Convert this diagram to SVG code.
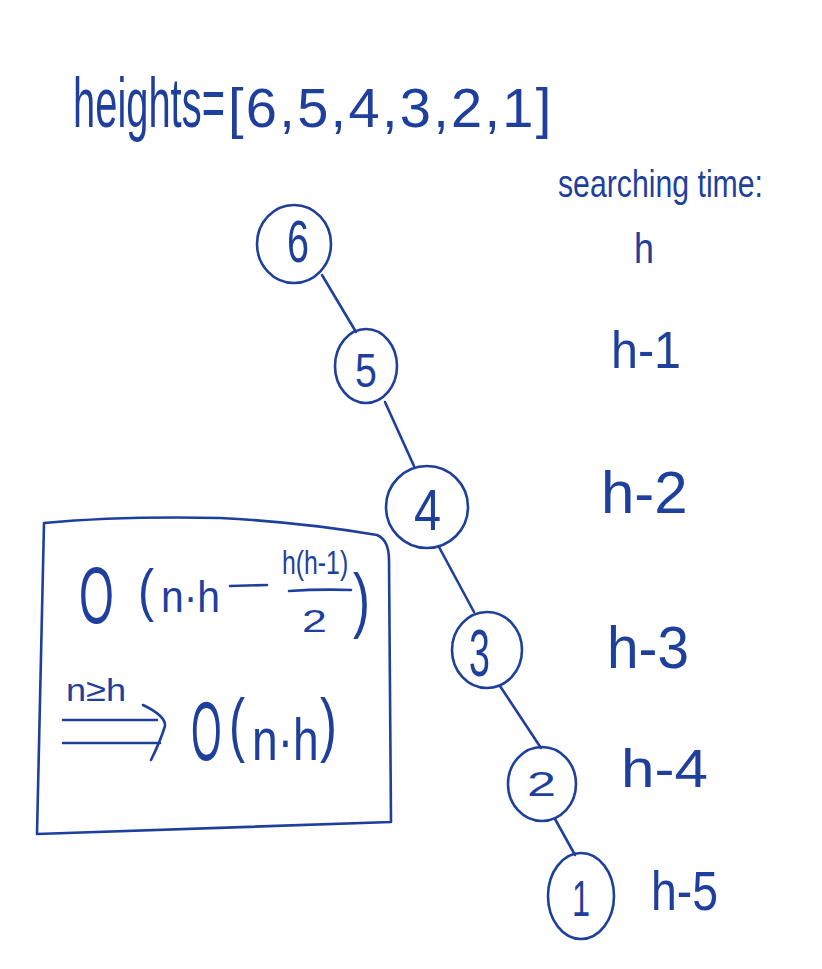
<svg xmlns="http://www.w3.org/2000/svg" width="822" height="969" viewBox="0 0 822 969">
<style>
.ink{fill:none;stroke:#1f3f9c;stroke-width:2.6;stroke-linecap:round;stroke-linejoin:round}
.t{font-family:"Liberation Sans","DejaVu Sans",sans-serif;fill:#1f3f9c}
</style>
<rect width="822" height="969" fill="#ffffff"/>
<g id="title">
<text class="t" transform="matrix(0.57 0 0 1 73 127)" font-size="70">heights=</text>
<text class="t" x="228" y="127" font-size="56" letter-spacing="2.3">[6,5,4,3,2,1]</text>
</g>
<text class="t" transform="matrix(0.796 0 0 1 558 197)" font-size="38">searching time:</text>
<g id="connectors" class="ink">
<line x1="322" y1="275" x2="356" y2="332"/>
<line x1="385" y1="402" x2="414" y2="466"/>
<line x1="439" y1="547" x2="474" y2="612"/>
<line x1="500" y1="686" x2="541" y2="748"/>
<line x1="555" y1="819" x2="575" y2="855"/>
</g>
<g id="n6"><ellipse class="ink" cx="294" cy="244" rx="37" ry="39"/><text class="t" transform="matrix(0.66 0 0 1 287 262)" font-size="60">6</text></g>
<g id="n5"><ellipse class="ink" cx="366" cy="366" rx="31" ry="37"/><text class="t" transform="matrix(0.82 0 0 1 355 387)" font-size="48">5</text></g>
<g id="n4"><ellipse class="ink" cx="427" cy="507" rx="41" ry="41"/><text class="t" transform="matrix(0.84 0 0 1 414 530)" font-size="58">4</text></g>
<g id="n3"><ellipse class="ink" cx="487" cy="650" rx="35" ry="38"/><text class="t" transform="matrix(0.57 0 0 1 469 676)" font-size="66">3</text></g>
<g id="n2"><ellipse class="ink" cx="542" cy="784" rx="34" ry="37"/><text class="t" transform="matrix(1.45 0 0 1 527 796)" font-size="36">2</text></g>
<g id="n1"><ellipse class="ink" cx="581" cy="896" rx="33" ry="43"/><text class="t" transform="matrix(0.65 0 0 1 572 916)" font-size="50">1</text></g>
<g id="times">
<text class="t" transform="matrix(0.855 0 0 1 634 263)" font-size="42">h</text>
<text class="t" transform="matrix(0.932 0 0 1 611 368)" font-size="52">h-1</text>
<text class="t" transform="matrix(1 0 0 1 601 513)" font-size="60">h-2</text>
<text class="t" transform="matrix(0.946 0 0 1 607 668)" font-size="60">h-3</text>
<text class="t" transform="matrix(1.115 0 0 1 621 787)" font-size="54">h-4</text>
<text class="t" transform="matrix(0.828 0 0 1 651 910)" font-size="56">h-5</text>
</g>
<g id="complexity">
<path class="ink" d="M44 523 Q120 516 220 518 Q300 522 377 535 Q389 540 389 560 L391 822 L37 834 L44 523 Z"/>
<text class="t" transform="matrix(0.56 0 0 1 79 623)" font-size="80">O</text>
<text class="t" transform="matrix(0.83 0 0 1 138 610)" font-size="58">(</text>
<text class="t" transform="matrix(0.93 0 0 1 161 612)" font-size="44">n·h</text>
<line class="ink" x1="230" y1="586" x2="267" y2="585"/>
<text class="t" transform="matrix(0.73 0 0 1 282 574)" font-size="34">h(h-1)</text>
<path class="ink" d="M289 591 Q320 589 351 590"/>
<text class="t" transform="matrix(1.4 0 0 1 302 632)" font-size="32">2</text>
<text class="t" transform="matrix(0.71 0 0 1 353 624)" font-size="72">)</text>
<text class="t" transform="matrix(1.13 0 0 1 66 701)" font-size="32">n≥h</text>
<path class="ink" d="M63 720 L157 720 M63 743 L160 743 M143 705 Q166 716 165 726 Q160 742 151 760"/>
<text class="t" transform="matrix(0.47 0 0 1 191 760)" font-size="84">O</text>
<text class="t" transform="matrix(0.69 0 0 1 229 748)" font-size="70">(</text>
<text class="t" transform="matrix(0.77 0 0 1 252 760)" font-size="60">n·h</text>
<text class="t" transform="matrix(0.73 0 0 1 320 748)" font-size="70">)</text>
</g>
</svg>
